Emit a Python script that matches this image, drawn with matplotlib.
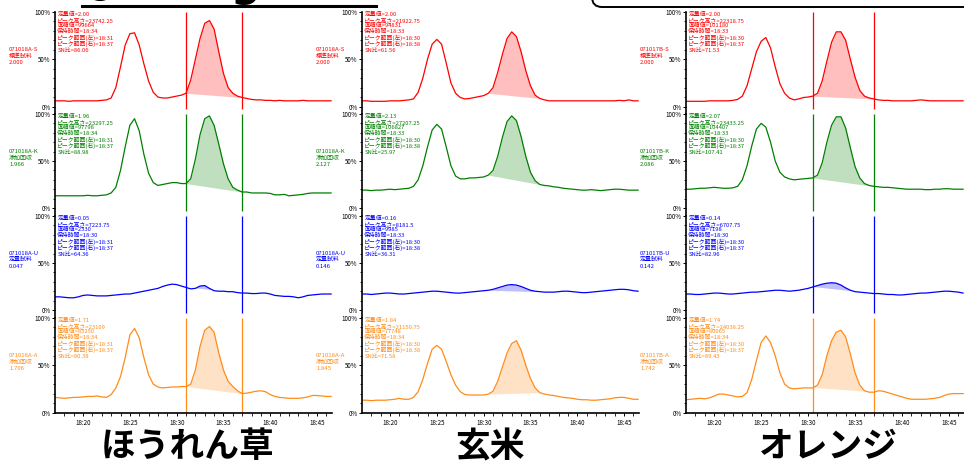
import numpy as np
import matplotlib
matplotlib.use("Agg")
import matplotlib.pyplot as plt
from matplotlib.patches import FancyBboxPatch
from matplotlib.lines import Line2D
from matplotlib.ticker import FixedLocator

plt.rcParams['font.family'] = ['Noto Sans CJK JP', 'DejaVu Sans']

# retention time in minutes after 18:00 (one reading every 30 s)
minutes = np.arange(17.0, 46.6, 0.5)

# chromatograms, % of full scale
spinach_S = [6, 6, 6, 5.5, 6, 6, 6, 6, 6, 6,
             6.5, 7, 9, 20, 42, 65, 77, 78, 65, 45,
             27, 15, 10, 9, 9, 10, 11, 12, 14, 28,
             50, 72, 88, 91, 82, 58, 35, 20, 14, 11,
             9.5, 8.5, 7.5, 7, 7, 6.5, 6.5, 6, 6.5, 6,
             6, 6, 6, 6.5, 6, 6, 6, 6, 6, 6]
spinach_K = [13, 13, 13, 13, 13, 13, 13, 13.5, 13, 13,
             13.5, 14, 16, 22, 40, 65, 88, 95, 82, 57,
             37, 27, 24, 25, 26, 27, 27, 26, 26, 31,
             52, 78, 95, 98, 88, 68, 47, 31, 22, 19,
             17, 17, 16, 16, 16, 16, 15.5, 14, 14, 14.5,
             13, 13.5, 14, 14.5, 15.5, 16, 16, 16, 16, 16]
spinach_U = [14, 14, 13.5, 13, 13, 14, 15.5, 16, 15.5, 15,
             15, 15, 15.5, 16, 16.5, 17, 17, 18, 19, 20,
             21, 22, 23, 25, 26.5, 27.5, 27, 25.5, 24, 22.5,
             23, 25.5, 26, 23, 20.5, 20, 20, 19.5, 19.5, 18.5,
             18, 18, 17.5, 17.5, 18, 18, 17, 15.5, 15, 14.5,
             14.5, 14, 13, 14, 15.5, 16, 16.5, 17, 17, 17]
spinach_A = [16, 15.5, 15, 15.5, 16, 16, 16.5, 17, 17, 17.5,
             16.5, 16, 19, 26, 38, 58, 82, 89, 79, 58,
             40, 30, 27, 26, 26.5, 27, 27, 27.5, 27.5, 30,
             45, 70, 87, 91, 85, 63, 45, 33, 27.5, 23,
             20, 20.5, 21.5, 22.5, 23, 22, 19, 17, 16, 15.5,
             15, 15, 15, 15.5, 16.5, 18, 18, 17.5, 17, 17]

rice_S = [6, 6, 5.5, 5.5, 5.5, 5.5, 6, 6, 6, 6.5,
          7, 8, 15, 30, 50, 66, 71, 66, 46, 25,
          14, 9.5, 8, 8.5, 9.5, 10.5, 11.5, 14, 20, 36,
          55, 72, 79, 74, 58, 38, 22, 12, 8.5, 7,
          6, 6, 6, 6, 6, 6, 6, 6, 6, 6,
          6, 6, 6, 6, 6, 6.5, 6, 7, 6, 6]
rice_K = [19, 19, 18.5, 19, 19, 19.5, 20, 19.5, 20, 20.5,
          21, 23, 30, 45, 65, 83, 89, 84, 65, 45,
          34, 31, 31, 32, 32, 32.5, 33, 35, 40, 55,
          75, 92, 98, 93, 76, 55, 38, 29, 25, 24,
          23.5, 22.5, 22, 21, 20.5, 20, 19.5, 19, 19, 19.5,
          19, 18.5, 19, 19.5, 20, 20, 19.5, 19, 19, 19]
rice_U = [17, 17, 16.5, 17, 17.5, 18, 18, 17.5, 17, 17,
          17.5, 18, 18.5, 19, 19.5, 20, 20, 19.5, 19, 18.5,
          18, 18, 18.5, 19, 19.5, 20, 20.5, 21, 22, 23.5,
          25, 26.5, 27, 26.5, 25, 23, 21, 20, 19.5, 19,
          19, 19, 19.5, 20, 20, 19.5, 19, 18.5, 18.5, 19,
          19.5, 20, 20.5, 21, 21.5, 22, 22, 21.5, 20.5, 20]
rice_A = [13, 13, 12.5, 13, 13, 13, 13.5, 14, 15, 14,
          14, 16, 22, 35, 52, 67, 71, 67, 54, 40,
          29, 22, 19, 18.5, 18.5, 18.5, 18.5, 19.5, 22.5, 33,
          48, 63, 73, 76, 66, 50, 36, 26, 21, 19.5,
          18.5, 18, 17, 16, 15.5, 15, 14, 13.5, 13.5, 13,
          13, 13.5, 14, 14.5, 15.5, 16, 16, 15, 14, 14]

orange_S = [5.5, 5.5, 5.5, 5.5, 5.5, 6, 6, 6, 6, 6,
            6.5, 7.5, 11, 22, 40, 58, 69, 73, 62, 42,
            24, 14, 9, 7, 8, 9.5, 10, 11, 14, 27,
            48, 68, 79, 79, 70, 50, 31, 17, 11, 9,
            8, 7, 6.5, 6.5, 6, 6, 6, 6, 6, 6.5,
            7, 6.5, 6, 6, 6, 6, 6, 6, 6, 6]
orange_K = [20, 20, 20.5, 21, 21, 21.5, 22, 21.5, 21, 21,
            21.5, 23, 30, 45, 66, 84, 90, 86, 70, 50,
            38, 33, 31, 30, 30.5, 31, 31.5, 32, 35, 48,
            70, 88, 97, 97, 85, 64, 44, 32, 26, 24,
            23, 22.5, 22, 22, 21.5, 21, 20.5, 20, 20, 20,
            20, 19.5, 19.5, 20, 20, 20.5, 20.5, 20, 20, 20]
orange_U = [17, 17, 16.5, 16.5, 17, 17.5, 18, 18, 17.5, 17,
            17, 17.5, 18, 18.5, 19, 19, 19.5, 20, 20.5, 21,
            21, 20.5, 20, 20.5, 21, 22, 23, 24.5, 26, 27.5,
            28.5, 29, 28.5, 26.5, 23.5, 21, 19.5, 19, 18.5, 18,
            17.5, 17.5, 17, 16.5, 16.5, 16, 16, 16.5, 17, 17.5,
            18, 18, 18.5, 19, 19.5, 20, 20, 19.5, 19, 18]
orange_A = [13.5, 14, 14.5, 15, 14.5, 15.5, 17.5, 19.5, 19.5, 18.5,
            17.5, 16.5, 17, 21, 35, 55, 74, 81, 74, 60,
            42, 30, 26, 25, 25.5, 26, 26, 26, 29, 40,
            60, 76, 85, 87, 80, 62, 42, 29, 23, 21.5,
            21.5, 23, 22.5, 21, 19.5, 18, 16.5, 15, 14, 14,
            14, 14, 14.5, 15, 16, 18, 19.5, 20, 20, 20]

traces = [[spinach_S, spinach_K, spinach_U, spinach_A],
          [rice_S, rice_K, rice_U, rice_A],
          [orange_S, orange_K, orange_U, orange_A]]

sample_names = ['ほうれん草', '玄米', 'オレンジ']
file_ids = ['071018A', '071018A', '071017B']
row_codes = ['S', 'K', 'U', 'A']
row_kinds = ['標準試料', '添加回収', '定量試料', '添加回収']
row_colors = ['#ff0000', '#008000', '#0000ff', '#ff8c1a']
side_values = [[2.000, 1.966, 0.047, 1.706],
               [2.000, 2.127, 0.146, 1.845],
               [2.000, 2.086, 0.142, 1.742]]

# integration window per sample (minutes) and whether its marker lines are shown
window_start = [31.0, 30.5, 30.5]
window_end = [37.0, 36.0, 37.0]
window_lines = [True, False, True]

quant = [['2.00', '1.96', '0.05', '1.71'],
         ['2.00', '2.13', '0.16', '1.84'],
         ['2.00', '2.07', '0.14', '1.74']]
peak_height = [['23742.25', '23297.25', '7223.75', '23109'],
               ['21922.75', '27207.25', '8181.5', '21150.75'],
               ['22318.75', '23433.25', '6707.75', '24038.25']]
peak_area = [['99664', '97798', '2330', '85250'],
             ['94831', '106827', '9985', '77748'],
             ['101180', '104407', '7198', '80065']]
ret_time = [['18:34', '18:34', '18:30', '18:34'],
            ['18:33', '18:33', '18:33', '18:34'],
            ['18:33', '18:33', '18:30', '18:34']]
range_left = ['18:31', '18:30', '18:30']
range_right = ['18:37', '18:38', '18:37']
sn_ratio = [['86.06', '88.98', '64.36', '80.38'],
            ['61.56', '25.97', '36.31', '71.58'],
            ['71.53', '107.41', '82.96', '89.43']]

time_ticks = [20, 25, 30, 35, 40, 45]
time_labels = ['18:20', '18:25', '18:30', '18:35', '18:40', '18:45']

W, H = 964, 467
fig = plt.figure(figsize=(W / 100, H / 100), dpi=100)

col_left = [55, 362, 686]
col_right = [332, 639, 964]
row_top = [12, 114, 216, 318]
row_zero = [106.5, 208, 310, 412.5]
label_x = [9, 316, 640]
name_x = [188, 490, 828]

for c in range(3):
    for r in range(4):
        color = row_colors[r]
        last = r == 3
        y_bot = row_zero[r] if last else row_top[r + 1]
        ax = fig.add_axes([col_left[c] / W, 1 - y_bot / H,
                           (col_right[c] - col_left[c]) / W, (y_bot - row_top[r]) / H])
        lower = -100 * (y_bot - row_zero[r]) / (row_zero[r] - row_top[r])
        ax.set_ylim(lower, 100)
        ax.set_xlim(17.0, 46.6)

        y = np.array(traces[c][r], dtype=float)
        ax.plot(minutes, y, color=color, lw=0.9)

        # shaded peak above a straight baseline across the window
        i0 = int(np.argmin(abs(minutes - window_start[c])))
        i1 = int(np.argmin(abs(minutes - window_end[c])))
        seg_t, seg_y = minutes[i0:i1 + 1], y[i0:i1 + 1]
        base = np.linspace(seg_y[0], seg_y[-1], len(seg_t))
        ax.fill_between(seg_t, base, seg_y, where=seg_y >= base, interpolate=True,
                        color=color, alpha=0.25, lw=0)
        if window_lines[c]:
            ax.vlines([minutes[i0], minutes[i1]], max(lower, -3), 100, color=color, lw=0.9)

        for side in ['top', 'right']:
            ax.spines[side].set_visible(False)
        ax.spines['left'].set_linewidth(1.2)
        ax.set_yticks([0, 50, 100])
        ax.set_yticklabels(['0%', '50%', '100%'])
        ax.yaxis.set_minor_locator(FixedLocator([10, 20, 30, 40, 60, 70, 80, 90]))
        ax.tick_params(axis='y', which='major', labelsize=4.5, length=2.5, width=0.7, pad=0.5)
        ax.tick_params(axis='y', which='minor', length=1.8, width=0.6)
        if last:
            ax.spines['bottom'].set_linewidth(1.2)
            ax.set_xticks(time_ticks)
            ax.set_xticklabels(time_labels)
            ax.xaxis.set_minor_locator(FixedLocator(range(18, 47)))
            ax.tick_params(axis='x', which='major', labelsize=4.5, length=2.5, width=0.7, pad=2)
            ax.tick_params(axis='x', which='minor', length=1.8, width=0.6)
        else:
            ax.spines['bottom'].set_visible(False)
            ax.set_xticks([])

        info = [f'定量値={quant[c][r]}',
                f'ピーク高さ={peak_height[c][r]}',
                f'面積値={peak_area[c][r]}',
                f'保持時間={ret_time[c][r]}',
                f'ピーク範囲(左)={range_left[c]}',
                f'ピーク範囲(右)={range_right[c]}',
                f'SN比={sn_ratio[c][r]}']
        ax.text(17.25, 100, '\n'.join(info), va='top', ha='left', fontsize=4.2,
                color=color, linespacing=1.05)

        fig.text(label_x[c] / W, 1 - (row_top[r] + 35) / H,
                 f'{file_ids[c]}-{row_codes[r]}\n{row_kinds[r]}\n{side_values[c][r]:.3f}',
                 va='top', ha='left', fontsize=4.3, color=color, linespacing=1.3)

    fig.text(name_x[c] / W, 1 - 447 / H, sample_names[c], ha='center', va='center',
             fontsize=25, fontweight='bold', color='black')

# slide header running off the top edge
fig.text(82 / W, 1 + 4 / H, '● Bro-gamma', fontsize=30, fontweight='bold',
         family='DejaVu Sans', va='baseline', ha='left')
fig.add_artist(Line2D([82 / W, 376 / W], [1 - 5.5 / H, 1 - 5.5 / H], color='black', lw=2.2))
fig.add_artist(FancyBboxPatch((5.92, (H - 7) / 100), 4.2, 0.5,
                              boxstyle='round,pad=0,rounding_size=0.1',
                              transform=fig.dpi_scale_trans, fc='white', ec='black', lw=1.4))

fig.savefig('out.png', dpi=100, facecolor='white')
